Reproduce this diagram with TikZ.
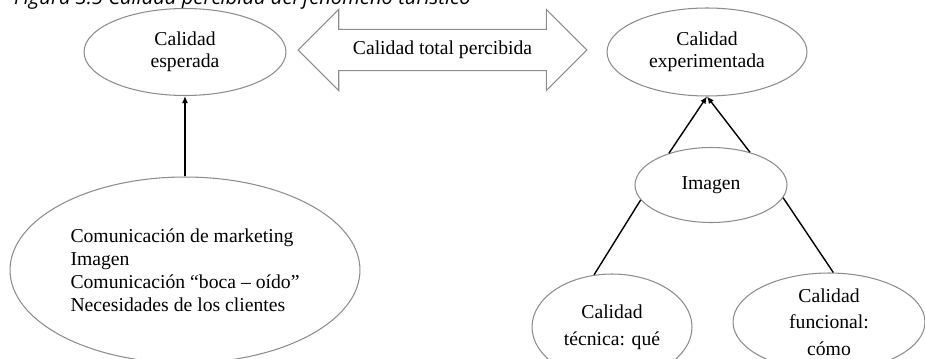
\documentclass[tikz,border=0pt]{standalone}
\usepackage{fontspec}
\setmainfont{Liberation Serif}
\newfontfamily\titlefont{Open Sans}
\usetikzlibrary{arrows.meta,shapes.geometric,shapes.arrows}
\definecolor{bordegris}{RGB}{140,140,140}

\begin{document}
\begin{tikzpicture}[>={Latex[length=4pt,width=3.5pt]}, x=0.02cm, y=-0.02cm,
    elipse/.style={draw=bordegris, line width=0.6pt, ellipse, inner sep=0pt, align=center,
      font=\fontsize{11.2}{12.6}\selectfont},
    doble/.style={double arrow, draw=bordegris, line width=0.6pt, double arrow head extend=0.4cm,
      double arrow tip angle=90, inner xsep=2pt, inner ysep=0.225cm, font=\fontsize{11.2}{12.6}\selectfont},
    flecha/.style={->, line width=0.8pt},
    linea/.style={line width=0.8pt}]
      \useasboundingbox (0,0) rectangle (925,358);
      \node[anchor=base west, font=\titlefont\itshape\fontsize{11.5}{13}\selectfont] (titulo) at (8,5) {Figura 3.5 Calidad percibida del fenómeno turístico};
      \node[elipse, minimum width=4.04cm, minimum height=1.74cm] (esperada) at (185,52) {Calidad\\esperada};
      \node[elipse, minimum width=4.0cm, minimum height=1.76cm] (experimentada) at (707,52) {Calidad\\experimentada};
      \node[doble, minimum height=5.78cm, minimum width=1.6cm] (total) at (442.5,50) {Calidad total percibida};
      \node[elipse, minimum width=7.0cm, minimum height=3.72cm, align=left, font=\fontsize{11.2}{13.1}\selectfont] (factores) at (185,270)
        {Comunicación de marketing\\Imagen\\Comunicación “boca – oído”\\Necesidades de los clientes};
      \node[elipse, minimum width=3.04cm, minimum height=1.5cm] (imagen) at (711,185) {Imagen};
      \node[elipse, minimum width=3.2cm, minimum height=2.12cm, font=\fontsize{11.2}{15.5}\selectfont] (tecnica) at (612,327) {Calidad\\técnica: qué};
      \node[elipse, minimum width=3.84cm, minimum height=1.96cm, font=\fontsize{11.2}{15}\selectfont] (funcional) at (829,322) {Calidad\\funcional:\\cómo};
      \draw[flecha] (factores.north) -- (esperada.south);
      \draw[flecha] (imagen.143) -- (experimentada.south);
      \draw[flecha] (imagen.40) -- (experimentada.south);
      \draw[linea] (imagen.192) -- (tecnica.109);
      \draw[linea] (imagen.350) -- (funcional.85);
    \end{tikzpicture}
\end{document}
